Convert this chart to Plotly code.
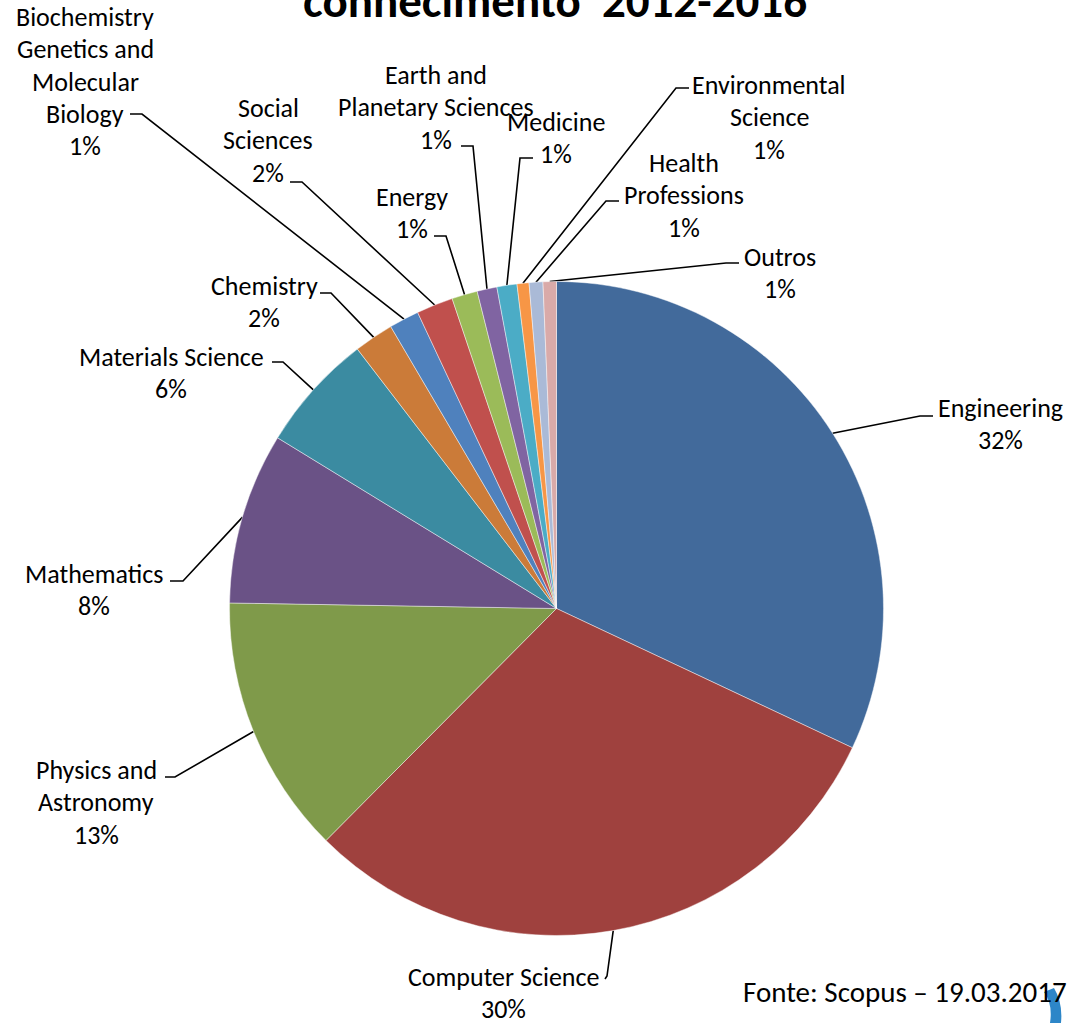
import math
import plotly.graph_objects as go

# Publications by subject area, share of total (%)
areas = [
    "Engineering", "Computer Science", "Physics and Astronomy", "Mathematics",
    "Materials Science", "Chemistry", "Biochemistry Genetics and Molecular Biology",
    "Social Sciences", "Energy", "Earth and Planetary Sciences", "Medicine",
    "Environmental Science", "Health Professions", "Outros",
]
shares = [32.00, 30.45, 12.82, 8.47, 5.84, 1.96, 1.48, 1.81, 1.27, 0.98, 0.99, 0.59, 0.68, 0.66]

# wrapped label text for each slice
label_lines = [
    ["Engineering"], ["Computer Science"], ["Physics and", "Astronomy"], ["Mathematics"],
    ["Materials Science"], ["Chemistry"], ["Biochemistry", "Genetics and", "Molecular", "Biology"],
    ["Social", "Sciences"], ["Energy"], ["Earth and", "Planetary Sciences"], ["Medicine"],
    ["Environmental", "Science"], ["Health", "Professions"], ["Outros"],
]

colors = [
    "#426A9B", "#9F413E", "#7F9A4A", "#6A5286", "#3B8BA1", "#CB7B39", "#4F81BD",
    "#C0504D", "#9BBB59", "#8064A2", "#4BACC6", "#F79646", "#AABAD7", "#D9AAA9",
]

W, H = 1068, 1023
CX, CY, R = 556.5, 608.5, 327.0

# label placement: first-line centre, leader elbow, end of leader stub (pixels)
label_pos = [
    (1000, 408), (503, 977), (96, 770), (94, 574), (171, 357), (264, 286), (85, 17),
    (268, 108), (412, 197), (436, 75), (556, 122), (769, 85), (684, 163), (780, 257),
]
elbows = [
    (920, 416), (607, 976), (175, 777), (183, 581), (283, 362), (331, 293), (142, 114),
    (302, 182), (446, 236), (473, 146), (520, 158), (676, 88), (606, 201), (726, 263),
]
stub_ends = [
    (933, 416), (605, 979), (165, 777), (170, 581), (272, 362), (320, 293), (130, 114),
    (290, 182), (434, 236), (461, 146), (533, 158), (689, 88), (619, 201), (739, 263),
]

FONT = "Carlito, Lato, sans-serif"
FS = 26
LINE_H = 32.3

fig = go.Figure()

fig.add_trace(go.Pie(
    labels=areas, values=shares, sort=False, direction="clockwise", rotation=0,
    marker=dict(colors=colors, line=dict(color="rgba(255,255,255,0.55)", width=0.8)),
    textinfo="none", hoverinfo="label+percent", showlegend=False,
    domain=dict(x=[(CX - R) / W, (CX + R) / W], y=[1 - (CY + R) / H, 1 - (CY - R) / H]),
))

# leader lines from each slice's outer midpoint
total = sum(shares)
lx, ly = [], []
cum = 0.0
for v, (ex, ey), (sx, sy) in zip(shares, elbows, stub_ends):
    ang = (cum + v / 2) / total * 2 * math.pi
    cum += v
    px = CX + R * math.sin(ang)
    py = CY - R * math.cos(ang)
    lx += [px, ex, sx, None]
    ly += [py, ey, sy, None]

fig.add_trace(go.Scatter(
    x=lx, y=ly, mode="lines", line=dict(color="black", width=1.6),
    hoverinfo="skip", showlegend=False,
))

annotations = []
for lines, v, (tx, ty) in zip(label_lines, shares, label_pos):
    texts = lines + [f"{round(v / total * 100)}%"]
    for i, t in enumerate(texts):
        annotations.append(dict(
            x=tx, y=ty + i * LINE_H, xref="x", yref="y", text=t, showarrow=False,
            xanchor="center", yanchor="middle", font=dict(family=FONT, size=FS, color="black"),
        ))

# chart title (second line)
annotations.append(dict(
    x=555, y=1, xref="x", yref="y", text="<b>conhecimento\u00a0 2012-2016</b>", showarrow=False,
    xanchor="center", yanchor="middle", font=dict(family=FONT, size=47, color="black"),
))

# source note
annotations.append(dict(
    x=741, y=992, xref="x", yref="y", text="Fonte: Scopus \u2013 19.03.2017", showarrow=False,
    xanchor="left", yanchor="middle", font=dict(family=FONT, size=29, color="black"),
))

fig.update_layout(
    width=W, height=H,
    margin=dict(l=0, r=0, t=0, b=0),
    paper_bgcolor="white", plot_bgcolor="rgba(0,0,0,0)",
    xaxis=dict(range=[0, W], visible=False, fixedrange=True, domain=[0, 1]),
    yaxis=dict(range=[H, 0], visible=False, fixedrange=True, domain=[0, 1]),
    annotations=annotations,
    shapes=[dict(
        type="path", xref="x", yref="y", layer="above",
        path="M 1044 992 Q 1053 1004 1050 1023 L 1061 1023 Q 1063 1003 1054 988 Z",
        fillcolor="#2D86C8", line=dict(width=0),
    )],
)

fig.write_html("out.html")
